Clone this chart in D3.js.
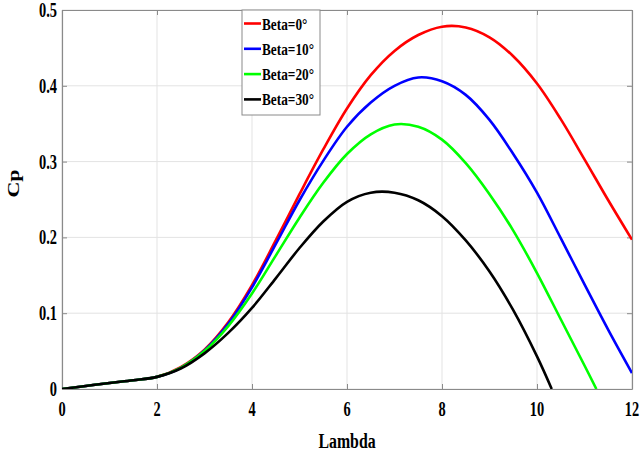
<!DOCTYPE html>
<html>
<head>
<meta charset="utf-8">
<script src="https://cdn.jsdelivr.net/npm/d3@7"></script>
<style>
    body { margin: 0; background: #ffffff; }
    text { font-family: "Liberation Serif", "Times New Roman", serif; font-weight: bold; fill: #000; }
</style>
</head>
<body>
<div id="chart"></div>
<script>
// Cp vs tip speed ratio for several pitch angles
let lambda0 = [0, 0.5, 1, 1.5, 2, 2.5, 3, 3.5, 4, 4.5, 5, 5.5, 6, 6.5, 7, 7.5, 8, 8.5, 9, 9.5, 10, 10.5, 11, 11.5, 12];
let cp0 = [0, 0.004, 0.008, 0.0115, 0.016, 0.029, 0.052, 0.088, 0.137, 0.196, 0.257, 0.316, 0.370, 0.414, 0.446, 0.467, 0.478, 0.477, 0.464, 0.439, 0.403, 0.356, 0.303, 0.249, 0.197];

let lambda10 = [0, 0.5, 1, 1.5, 2, 2.5, 3, 3.5, 4, 4.5, 5, 5.5, 6, 6.5, 7, 7.5, 8, 8.5, 9, 9.5, 10, 10.5, 11, 11.5, 12];
let cp10 = [0, 0.004, 0.008, 0.0115, 0.016, 0.028, 0.051, 0.086, 0.134, 0.191, 0.249, 0.301, 0.346, 0.378, 0.400, 0.411, 0.406, 0.388, 0.355, 0.310, 0.259, 0.199, 0.138, 0.078, 0.021];

let lambda20 = [0, 0.5, 1, 1.5, 2, 2.5, 3, 3.5, 4, 4.5, 5, 5.5, 6, 6.5, 7, 7.5, 8, 8.5, 9, 9.5, 10, 10.5, 11, 11.25];
let cp20 = [0, 0.004, 0.008, 0.0115, 0.016, 0.028, 0.050, 0.083, 0.126, 0.176, 0.226, 0.272, 0.310, 0.336, 0.349, 0.346, 0.329, 0.298, 0.257, 0.209, 0.153, 0.092, 0.031, 0];

let lambda30 = [0, 0.5, 1, 1.5, 2, 2.5, 3, 3.5, 4, 4.5, 5, 5.5, 6, 6.5, 7, 7.5, 8, 8.5, 9, 9.5, 10, 10.31];
let cp30 = [0, 0.004, 0.008, 0.0115, 0.016, 0.027, 0.047, 0.074, 0.107, 0.146, 0.186, 0.221, 0.247, 0.259, 0.259, 0.249, 0.228, 0.196, 0.155, 0.104, 0.043, 0];

let seriesNames = ["Beta=0°", "Beta=10°", "Beta=20°", "Beta=30°"];
let seriesColors = ["#ff0000", "#0000ff", "#00ff00", "#000000"];

let xTicks = [0, 2, 4, 6, 8, 10, 12];
let yTicks = [0, 0.1, 0.2, 0.3, 0.4, 0.5];

const W = 641, H = 460;
const margin = {top: 10, right: 9, bottom: 71, left: 62};
const width = W - margin.left - margin.right;
const height = H - margin.top - margin.bottom;
const squeeze = 0.72; // the original text is narrowed horizontally

let series = [
    {lam: lambda0, cp: cp0},
    {lam: lambda10, cp: cp10},
    {lam: lambda20, cp: cp20},
    {lam: lambda30, cp: cp30}
].map((s, i) => ({
    name: seriesNames[i],
    color: seriesColors[i],
    points: s.lam.map((l, j) => ({x: l, y: s.cp[j]}))
}));

let root = d3.select("#chart")
    .append("svg")
    .attr("width", W)
    .attr("height", H);

let svg = root.append("g")
    .attr("transform", `translate(${margin.left},${margin.top})`);

let x = d3.scaleLinear().domain([0, 12]).range([0, width]);
let y = d3.scaleLinear().domain([0, 0.5]).range([height, 0]);

// grid
svg.append("g")
    .selectAll("line")
    .data(xTicks)
    .join("line")
    .attr("x1", d => x(d)).attr("x2", d => x(d))
    .attr("y1", 0).attr("y2", height)
    .attr("stroke", "#e3e3e3").attr("stroke-width", 1);

svg.append("g")
    .selectAll("line")
    .data(yTicks)
    .join("line")
    .attr("x1", 0).attr("x2", width)
    .attr("y1", d => y(d)).attr("y2", d => y(d))
    .attr("stroke", "#e3e3e3").attr("stroke-width", 1);

// axes, ticks pointing inward on all four sides
function styleAxis(g) {
    g.select(".domain").attr("stroke", "#8a8a8a").attr("stroke-width", 1.2);
    g.selectAll(".tick line").attr("stroke", "#8a8a8a");
    g.selectAll(".tick text").remove();
}

svg.append("g")
    .attr("transform", `translate(0,${height})`)
    .call(d3.axisBottom(x).tickValues(xTicks).tickSizeInner(-5).tickSizeOuter(0))
    .call(styleAxis);
svg.append("g")
    .call(d3.axisTop(x).tickValues(xTicks).tickSizeInner(-5).tickSizeOuter(0))
    .call(styleAxis);
svg.append("g")
    .call(d3.axisLeft(y).tickValues(yTicks).tickSizeInner(-5).tickSizeOuter(0))
    .call(styleAxis);
svg.append("g")
    .attr("transform", `translate(${width},0)`)
    .call(d3.axisRight(y).tickValues(yTicks).tickSizeInner(-5).tickSizeOuter(0))
    .call(styleAxis);

// tick labels (narrowed serif)
svg.append("g")
    .selectAll("text")
    .data(xTicks)
    .join("text")
    .attr("transform", d => `translate(${x(d)},${height + 27}) scale(${squeeze},1)`)
    .attr("text-anchor", "middle")
    .style("font-size", "20px")
    .text(d => d);

svg.append("g")
    .selectAll("text")
    .data(yTicks)
    .join("text")
    .attr("transform", d => `translate(-5,${y(d) + 7}) scale(${squeeze},1)`)
    .attr("text-anchor", "end")
    .style("font-size", "20px")
    .text(d => d);

// axis labels
root.append("text")
    .attr("transform", `translate(${margin.left + width / 2},${H - 12}) scale(${squeeze},1)`)
    .attr("text-anchor", "middle")
    .style("font-size", "22px")
    .text("Lambda");

root.append("text")
    .attr("transform", `translate(19,${margin.top + height / 2 - 16}) scale(${squeeze},1) rotate(-90)`)
    .attr("text-anchor", "middle")
    .style("font-size", "22px")
    .text("Cp");

// curves
svg.append("clipPath")
    .attr("id", "plotClip")
    .append("rect")
    .attr("width", width)
    .attr("height", height);

let line = d3.line()
    .x(d => x(d.x))
    .y(d => y(d.y))
    .curve(d3.curveCatmullRom.alpha(0.5));

svg.append("g")
    .attr("clip-path", "url(#plotClip)")
    .selectAll("path")
    .data(series)
    .join("path")
    .attr("d", d => line(d.points))
    .attr("fill", "none")
    .attr("stroke", d => d.color)
    .attr("stroke-width", 2.6)
    .attr("stroke-linejoin", "round");

// legend
let legend = root.append("g")
    .attr("transform", "translate(242,10)");

legend.append("rect")
    .attr("width", 78)
    .attr("height", 105)
    .attr("fill", "#ffffff")
    .attr("stroke", "#8a8a8a")
    .attr("stroke-width", 1);

let item = legend.selectAll(".item")
    .data(series)
    .join("g")
    .attr("class", "item")
    .attr("transform", (d, i) => `translate(0,${13.5 + i * 25.3})`);

item.append("line")
    .attr("x1", 2).attr("x2", 19)
    .attr("stroke", d => d.color)
    .attr("stroke-width", 2.6);

item.append("text")
    .attr("transform", `translate(20,6) scale(0.76,1)`)
    .style("font-size", "17.5px")
    .text(d => d.name);
</script>
</body>
</html>
